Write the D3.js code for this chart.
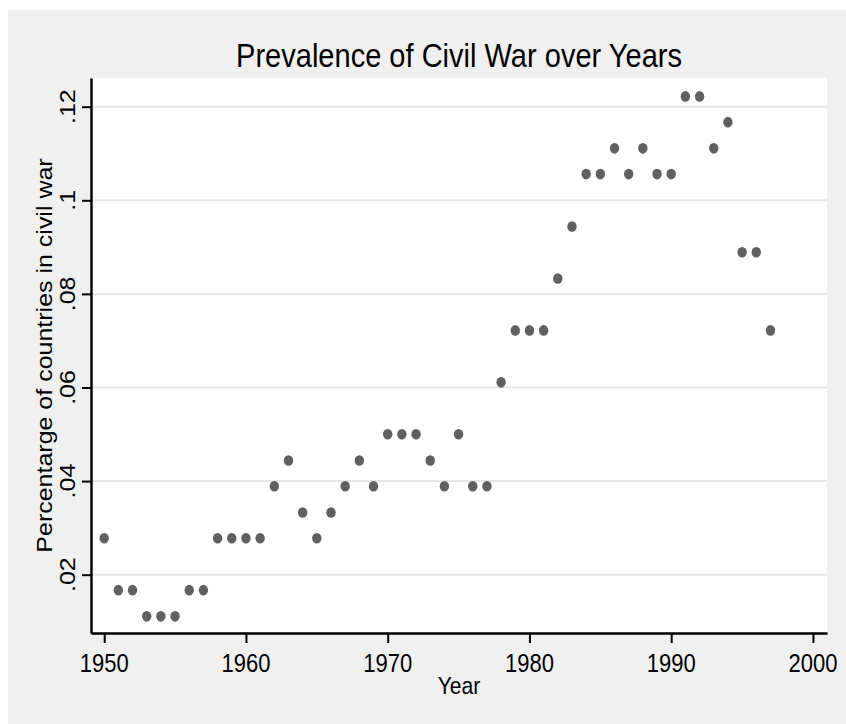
<!DOCTYPE html>
<html>
<head>
<meta charset="utf-8">
<script src="https://cdn.jsdelivr.net/npm/d3@7"></script>
<style>
  html, body { margin: 0; padding: 0; background: #ffffff; }
  text { font-family: Arial, "Liberation Sans", sans-serif; fill: #000000; }
</style>
</head>
<body>
<svg class="chart_svg"></svg>
<script>
var years = [1950, 1951, 1952, 1953, 1954, 1955, 1956, 1957, 1958, 1959,
  1960, 1961, 1962, 1963, 1964, 1965, 1966, 1967, 1968, 1969,
  1970, 1971, 1972, 1973, 1974, 1975, 1976, 1977, 1978, 1979,
  1980, 1981, 1982, 1983, 1984, 1985, 1986, 1987, 1988, 1989,
  1990, 1991, 1992, 1993, 1994, 1995, 1996, 1997];
var prevalence = [0.0278, 0.0167, 0.0167, 0.0111, 0.0111, 0.0111, 0.0167, 0.0167, 0.0278, 0.0278,
  0.0278, 0.0278, 0.0389, 0.0444, 0.0333, 0.0278, 0.0333, 0.0389, 0.0444, 0.0389,
  0.0500, 0.0500, 0.0500, 0.0444, 0.0389, 0.0500, 0.0389, 0.0389, 0.0611, 0.0722,
  0.0722, 0.0722, 0.0833, 0.0944, 0.1056, 0.1056, 0.1111, 0.1056, 0.1111, 0.1056,
  0.1056, 0.1222, 0.1222, 0.1111, 0.1167, 0.0889, 0.0889, 0.0722];
var xTicks = [1950, 1960, 1970, 1980, 1990, 2000];
var yTicks = [0.02, 0.04, 0.06, 0.08, 0.1, 0.12];
var yTickLabels = [".02", ".04", ".06", ".08", ".1", ".12"];

var data = years.map(function(y, i) { return { year: y, value: prevalence[i] }; });

var W = 846, H = 724;
var plot = { left: 91, right: 827, top: 78, bottom: 633 };
var sx = 0.88; // the picture is slightly squeezed sideways

var svg = d3.select(".chart_svg").attr("width", W).attr("height", H);

// outer graph region
svg.append("rect")
  .attr("x", 8).attr("y", 10)
  .attr("width", W - 8).attr("height", H - 10)
  .style("fill", "#f0f0f0");

// plot region
svg.append("rect")
  .attr("x", plot.left).attr("y", plot.top)
  .attr("width", plot.right - plot.left).attr("height", plot.bottom - plot.top)
  .style("fill", "#ffffff");

const x_scale = d3.scaleLinear()
  .domain([1949.07, 2000.99])
  .range([plot.left, plot.right]);

const y_scale = d3.scaleLinear()
  .domain([0.00754, 0.12613])
  .range([plot.bottom, plot.top]);

// grid lines
svg.append("g")
  .selectAll("line")
  .data(yTicks)
  .join("line")
  .attr("x1", plot.left).attr("x2", plot.right)
  .attr("y1", d => y_scale(d)).attr("y2", d => y_scale(d))
  .style("stroke", "#e6e6e6")
  .style("stroke-width", 2);

// x axis
var xAxis = svg.append("g")
  .attr("transform", `translate(0, ${plot.bottom})`)
  .call(d3.axisBottom(x_scale).tickValues(xTicks).tickSize(10).tickSizeOuter(0).tickFormat(""));
xAxis.select(".domain").attr("stroke", "#000").attr("stroke-width", 2.5);
xAxis.selectAll(".tick line").attr("stroke", "#000").attr("stroke-width", 2);

svg.append("g")
  .selectAll("text")
  .data(xTicks)
  .join("text")
  .attr("transform", d => `translate(${x_scale(d)}, 672) scale(${sx}, 1)`)
  .attr("text-anchor", "middle")
  .style("font-size", "25px")
  .text(d => d);

// y axis
var yAxis = svg.append("g")
  .attr("transform", `translate(${plot.left}, 0)`)
  .call(d3.axisLeft(y_scale).tickValues(yTicks).tickSize(9).tickSizeOuter(0).tickFormat(""));
yAxis.select(".domain").attr("stroke", "#000").attr("stroke-width", 2.5);
yAxis.selectAll(".tick line").attr("stroke", "#000").attr("stroke-width", 2);

svg.append("g")
  .selectAll("text")
  .data(yTicks)
  .join("text")
  .attr("transform", d => `translate(75, ${y_scale(d)}) scale(${sx}, 1) rotate(-90)`)
  .attr("text-anchor", "middle")
  .style("font-size", "25px")
  .text((d, i) => yTickLabels[i]);

// points
svg.append("g")
  .selectAll("ellipse")
  .data(data)
  .join("ellipse")
  .attr("cx", d => x_scale(d.year))
  .attr("cy", d => y_scale(d.value))
  .attr("rx", 4.7)
  .attr("ry", 5.3)
  .style("fill", "#606060");

// titles
svg.append("text")
  .attr("transform", `translate(${(plot.left + plot.right) / 2}, 66.5) scale(${sx}, 1)`)
  .attr("text-anchor", "middle")
  .style("font-size", "33px")
  .text("Prevalence of Civil War over Years");

svg.append("text")
  .attr("transform", `translate(${(plot.left + plot.right) / 2}, 694) scale(${sx}, 1)`)
  .attr("text-anchor", "middle")
  .style("font-size", "24px")
  .text("Year");

svg.append("text")
  .attr("transform", `translate(52, ${(plot.top + plot.bottom) / 2}) scale(${sx}, 1) rotate(-90)`)
  .attr("text-anchor", "middle")
  .style("font-size", "25px")
  .text("Percentarge of countries in civil war");
</script>
</body>
</html>
